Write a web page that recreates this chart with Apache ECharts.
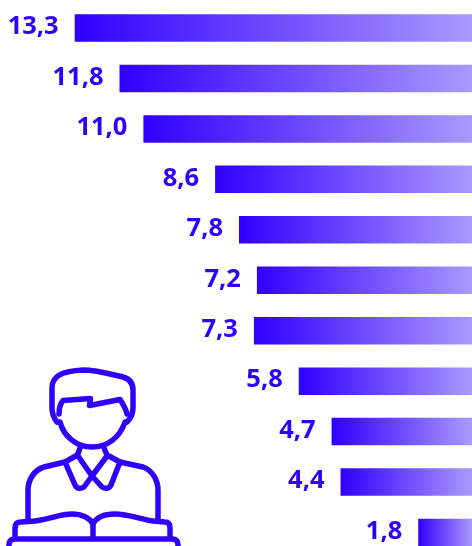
<!DOCTYPE html>
<html><head><meta charset="utf-8">
<style>html,body{margin:0;padding:0;background:#fff}#c{width:472px;height:546px}</style>
<script src="https://cdn.jsdelivr.net/npm/echarts@6/dist/echarts.min.js"></script>
</head><body><div id="c"></div>
<script>
const categories = ['a','b','c','d','e','f','g','h','i','j','k'];
const values = [13.3,11.8,11.0,8.6,7.8,7.2,7.3,5.8,4.7,4.4,1.8];
const BLUE = '#2e00ff';
const iconPaths = [
 'M57 422 C53 417 52 414 52 408 L52 388 C52 376 62 371 83 370 C97 370 110 374 123 377 C130 379 133 384 133 390 L133 408 C133 414 131 418 127 422',
 'M59 414 C59 408 60 404 63 400.5 L90.5 398.5 L89.5 405.5 L120 399.5 C123 404 126 409 127 414',
 'M60 422 C64 437 77 447 92 447 C108 447 120 437 125 422',
 'M80 448 L77.5 455 L65 462 L75 485 C77 489 81 489 84 487 L92 476 L102 487 C105 489 109 489 111 485 L120 462 L107 455 L104 448',
 'M78 456 L92 476 L107 456',
 'M65 462 L44 467 C34 470 28 480 28 490 L28 519',
 'M120 462 L143 467 C152 470 158 480 158 490 L158 519',
 'M15 536 L15 528 C15 524 17 522 21 522 L35 521 C50 519 60 514 72 514 C82 514 90 518 93 524 C96 518 104 514 115 514 C128 514 140 519 153 521 L165 522 C169 522 170 525 170 528 L170 536',
 'M93 524 L93 537',
 'M9 560 L9 545 C9 541 11 539 15 539 L172 539 C176 539 178 541 178 545 L178 560'
];
const chart = echarts.init(document.getElementById('c'));
chart.setOption({
  animation:false,
  grid:{left:0,right:0,top:2.75,height:555,outerBoundsMode:'none'},
  xAxis:{type:'value',inverse:true,min:0,max:15.8,show:false},
  yAxis:{type:'category',inverse:true,data:categories,show:false},
  series:[{
    type:'bar',data:values,barWidth:27.5,
    itemStyle:{color:new echarts.graphic.LinearGradient(0,0,1,0,[
      {offset:0,color:BLUE},{offset:1,color:'#aa99ff'}])},
    label:{show:true,position:'left',distance:16,offset:[0,-1],color:BLUE,
      fontFamily:'Open Sans',fontWeight:700,fontSize:25.5,
      formatter:p=>p.value.toFixed(1).replace('.',',')}
  },{
    type:'custom',coordinateSystem:'none',data:[0],silent:true,
    renderItem:()=>({type:'group',children:iconPaths.map(d=>({type:'path',shape:{pathData:d},
      style:{fill:null,stroke:BLUE,lineWidth:5.5,lineCap:'round',lineJoin:'round'}}))})
  }]
});
</script></body></html>
